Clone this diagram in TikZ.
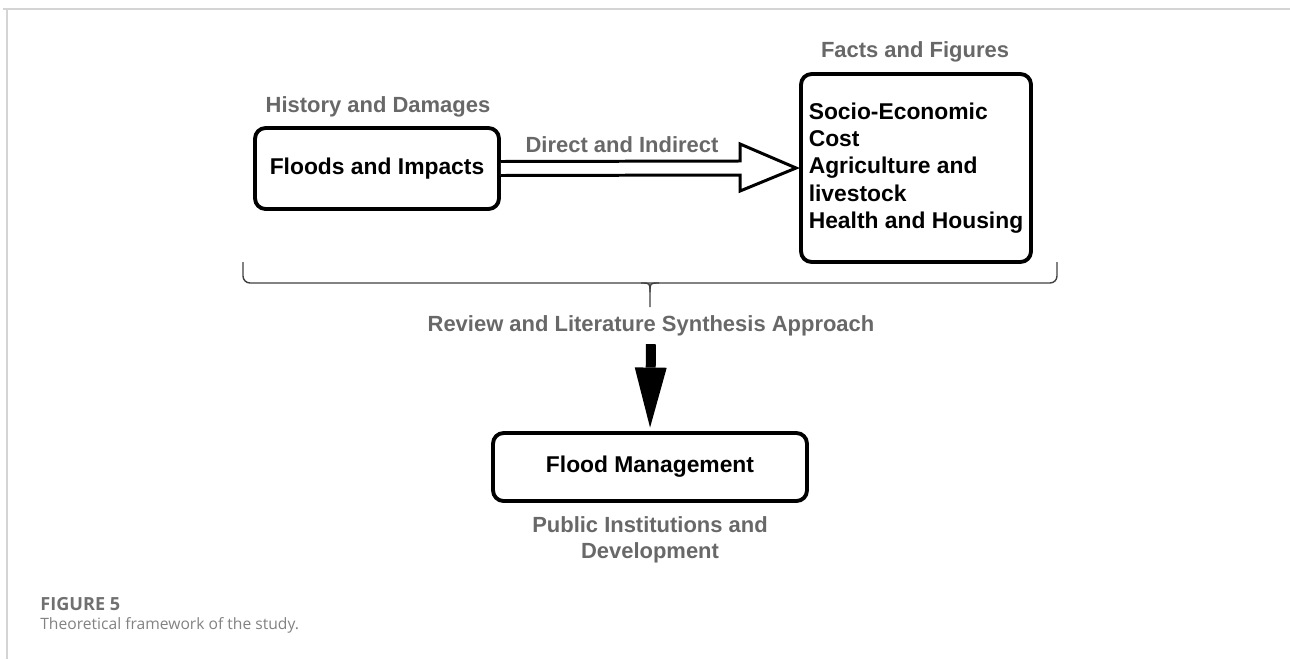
\documentclass[tikz,border=0pt]{standalone}
\usepackage{fontspec}
\setmainfont{Liberation Sans}
\newfontfamily\capfont{Open Sans}
\usetikzlibrary{calc,arrows.meta}
\definecolor{labelgray}{RGB}{104,104,104}
\definecolor{framegray}{RGB}{212,212,212}
\definecolor{capgray}{RGB}{112,112,112}
\definecolor{captextgray}{RGB}{130,130,130}
\tikzset{
	box/.style={draw=black, line width=2.2pt, rounded corners=6pt, fill=white, font=\bfseries\fontsize{13}{15.6}\selectfont},
	lbl/.style={text=labelgray, font=\bfseries\fontsize{12.5}{14.8}\selectfont},
	captext/.style={anchor=west, inner sep=0pt, text=captextgray, font=\capfont\fontsize{8.9}{12}\selectfont},
}

\begin{document}
\begin{tikzpicture}[x=0.02cm, y=-0.02cm]
			%%%%% START %%%%%
			
			\useasboundingbox (0,0) rectangle (1290,659);
			\draw[line width=1.1pt, color=framegray] (3,9) -- (1290,9);
			\draw[line width=0.8pt, color=framegray] (7,9) -- (7,659);
			
			\node[box, minimum width=4.88cm, minimum height=1.62cm] (floods) at (377,168.5) {Floods and Impacts};
			\node[lbl] (history) at (378,107) {History and Damages};
			
			\node[box, minimum width=4.6cm, minimum height=3.76cm, align=left] (facts) at (916,168) {Socio-Economic\\Cost\\Agriculture and\\livestock\\Health and Housing};
			\node[lbl] (figures) at (915,52) {Facts and Figures};
			
			\coordinate (tip) at ($(facts.west)+(-3,0)$);
			\draw[line width=1.7pt, fill=white, line join=miter] ($(floods.east)+(0,-7)$) -- ($(tip)+(-56,-7)$) -- ($(tip)+(-56,-24)$) -- (tip) -- ($(tip)+(-56,23)$) -- ($(tip)+(-56,7)$) -- ($(floods.east)+(0,7)$);
			\node[lbl] (direct) at (622,145) {Direct and Indirect};
			
			% brace under both boxes
			\draw[line width=0.8pt, color=black!75, rounded corners=4pt] (243,262) -- (243,283) -- (1057,283) -- (1057,262);
			\draw[line width=0.8pt, color=black!75] (641,283) .. controls (650,283) .. (650,292) -- (650,307);
			\draw[line width=0.8pt, color=black!75] (659,283) .. controls (650,283) .. (650,292);
			\node[lbl] (review) at (651,326) {Review and Literature Synthesis Approach};
			
			\node[box, minimum width=6.28cm, minimum height=1.36cm] (manage) at (650,467) {Flood Management};
			\node[lbl, align=center] (public) at (650,540) {Public Institutions and\\Development};
			
			\draw[line width=0.2cm, -{Triangle[length=1.2cm, width=0.64cm, line width=0pt]}, shorten <=1pt, shorten >=2pt] (review.south) -- (manage.north);
			
			\node[captext, text=capgray, font=\capfont\bfseries\fontsize{10.3}{12}\selectfont] (figno) at (40,604) {FIGURE 5};
			\node[captext] (caption) at (40,625) {Theoretical framework of the study.};
			
			%%%%% END %%%%%
\end{tikzpicture}
\end{document}
